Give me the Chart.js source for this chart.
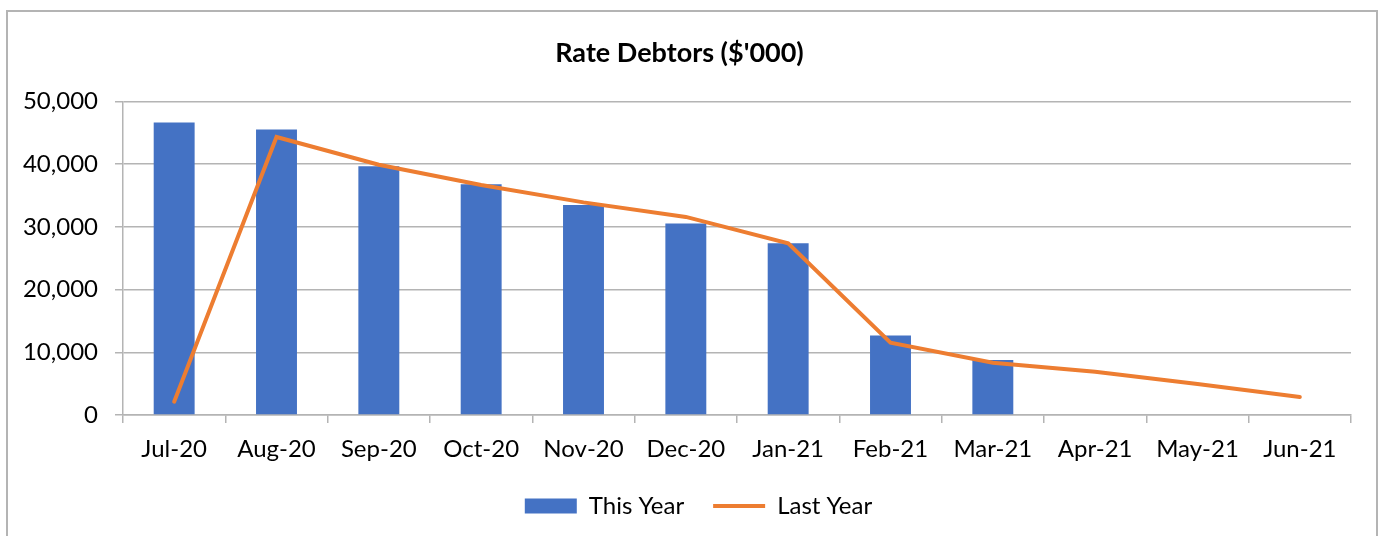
<!DOCTYPE html>
<html>
<head>
<meta charset="utf-8">
<title>Rate Debtors</title>
<script src="https://cdn.jsdelivr.net/npm/chart.js@4/dist/chart.umd.min.js"></script>
<style>
    html, body { margin: 0; padding: 0; background: #fff; }
    #wrap { position: relative; width: 1383px; height: 536px; overflow: hidden; }
    #frame {
        position: absolute; left: 6px; top: 10px; width: 1372px; height: 600px;
        border: 2px solid #b4b4b4; box-sizing: border-box;
    }
    canvas { position: absolute; left: 0; top: 0; }
</style>
</head>
<body>
<div id="wrap">
    <div id="frame"></div>
    <canvas id="chart" width="1383" height="536"></canvas>
</div>
<script>
// Data
const months = ['Jul-20', 'Aug-20', 'Sep-20', 'Oct-20', 'Nov-20', 'Dec-20',
                'Jan-21', 'Feb-21', 'Mar-21', 'Apr-21', 'May-21', 'Jun-21'];
const thisYear = [46650, 45500, 39650, 36780, 33490, 30520, 27390, 12690, 8760, null, null, null];
const lastYear = [2120, 44320, 39900, 36680, 33900, 31580, 27390, 11520, 8330, 6900, 4940, 2870];
const yTicks = [0, 10000, 20000, 30000, 40000, 50000];

const FONT = 'Lato, "Open Sans", sans-serif';
const gridColor = '#b4b4b4';

// legend is centred on the whole frame, not the plot area
const shiftLegend = {
    id: 'shiftLegend',
    afterLayout(chart) {
        chart.legend.left += 19;
        chart.legend.right += 19;
    }
};

const ctx = document.getElementById('chart').getContext('2d');
const chart = new Chart(ctx, {
    type: 'bar',
    data: {
        labels: months,
        datasets: [{
            label: 'This Year',
            data: thisYear,
            backgroundColor: '#4472C4',
            borderWidth: 0,
            barPercentage: 0.4,
            categoryPercentage: 1,
            pointStyle: 'rect',
            order: 2
        }, {
            type: 'line',
            label: 'Last Year',
            data: lastYear,
            borderColor: '#ED7D31',
            backgroundColor: '#ED7D31',
            borderWidth: 4,
            pointRadius: 0,
            pointStyle: 'line',
            tension: 0,
            borderCapStyle: 'round',
            order: 1
        }]
    },
    options: {
        responsive: false,
        animation: false,
        layout: { padding: { left: 8, right: 32, top: 0, bottom: 8 } },
        scales: {
            x: {
                grid: {
                    display: true,
                    drawOnChartArea: false,
                    offset: true,
                    tickLength: 8,
                    color: gridColor,
                    lineWidth: 1.5
                },
                border: { color: gridColor, width: 1.5 },
                ticks: {
                    color: '#000',
                    font: { family: FONT, size: 24 },
                    padding: 12,
                    maxRotation: 0
                },
                afterFit: scale => { scale.height = 50; }
            },
            y: {
                min: 0,
                max: 50000,
                afterBuildTicks: scale => { scale.ticks = yTicks.map(v => ({ value: v })); },
                grid: {
                    color: gridColor,
                    lineWidth: 1.5,
                    tickLength: 8
                },
                border: { color: gridColor, width: 1.5 },
                ticks: {
                    color: '#000',
                    font: { family: FONT, size: 24 },
                    padding: 17,
                    callback: v => v.toLocaleString('en-US')
                },
                afterFit: scale => { scale.width = 115; }
            }
        },
        plugins: {
            title: {
                display: true,
                text: "Rate Debtors ($'000)",
                color: '#000',
                font: { family: FONT, size: 27, weight: 'bold' },
                padding: { top: 37, bottom: 32 }
            },
            legend: {
                position: 'bottom',
                labels: {
                    usePointStyle: true,
                    pointStyleWidth: 52,
                    boxHeight: 15,
                    color: '#000',
                    font: { family: FONT, size: 24 },
                    padding: 29,
                    sort: (a, b) => a.datasetIndex - b.datasetIndex
                }
            },
            tooltip: { enabled: false }
        }
    },
    plugins: [shiftLegend]
});
</script>
</body>
</html>
